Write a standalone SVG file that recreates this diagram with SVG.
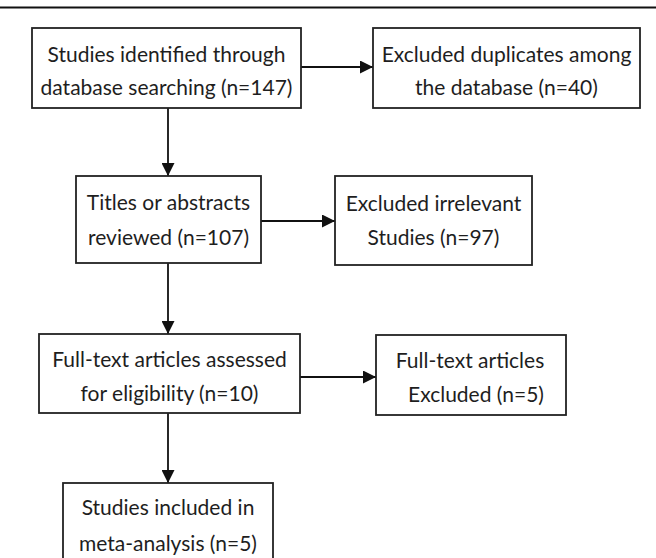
<svg xmlns="http://www.w3.org/2000/svg" width="656" height="558" viewBox="0 0 656 558">
<defs>
<marker id="ah" markerWidth="13" markerHeight="13" refX="13" refY="6.5" orient="auto" markerUnits="userSpaceOnUse">
<path d="M0,0 L13,6.5 L0,13 Z" fill="#111"/>
</marker>
<style>
.box{fill:#fff;stroke:#222;stroke-width:1.8}
.t{font-family:Lato,"Liberation Sans",sans-serif;font-size:21px;fill:#1e1e1e;text-anchor:middle}
.c{stroke:#111;stroke-width:1.8;fill:none;marker-end:url(#ah)}
</style>
</defs>
<rect width="656" height="558" fill="#fff"/>
<line x1="0" y1="7.5" x2="656" y2="7.5" stroke="#111" stroke-width="2"/>
<g id="connectors">
<line class="c" x1="301" y1="67" x2="373" y2="67"/>
<line class="c" x1="168" y1="108" x2="168" y2="176"/>
<line class="c" x1="261" y1="221" x2="335" y2="221"/>
<line class="c" x1="168" y1="263" x2="168" y2="334"/>
<line class="c" x1="300" y1="377" x2="376" y2="377"/>
<line class="c" x1="168" y1="413" x2="168" y2="483"/>
</g>
<g id="n1">
<rect class="box" x="32" y="28" width="269" height="80"/>
<text class="t" x="166.5" y="62">Studies identified through</text>
<text class="t" x="166.5" y="95">database searching (n=147)</text>
</g>
<g id="n2">
<rect class="box" x="373" y="28" width="267" height="80"/>
<text class="t" x="506.5" y="62">Excluded duplicates among</text>
<text class="t" x="506.5" y="95">the database (n=40)</text>
</g>
<g id="n3">
<rect class="box" x="76" y="176" width="185" height="87"/>
<text class="t" x="168.5" y="210">Titles or abstracts</text>
<text class="t" x="168.5" y="245">reviewed (n=107)</text>
</g>
<g id="n4">
<rect class="box" x="335" y="176" width="197" height="89"/>
<text class="t" x="433.5" y="211">Excluded irrelevant</text>
<text class="t" x="433.5" y="245">Studies (n=97)</text>
</g>
<g id="n5">
<rect class="box" x="39" y="334" width="261" height="79"/>
<text class="t" x="169.5" y="367">Full-text articles assessed</text>
<text class="t" x="169.5" y="401">for eligibility (n=10)</text>
</g>
<g id="n6">
<rect class="box" x="376" y="335" width="190" height="80"/>
<text class="t" x="470" y="368">Full-text articles</text>
<text class="t" x="476" y="402">Excluded (n=5)</text>
</g>
<g id="n7">
<rect class="box" x="63" y="483" width="210" height="90"/>
<text class="t" x="168" y="515">Studies included in</text>
<text class="t" x="168" y="551">meta-analysis (n=5)</text>
</g>
</svg>
